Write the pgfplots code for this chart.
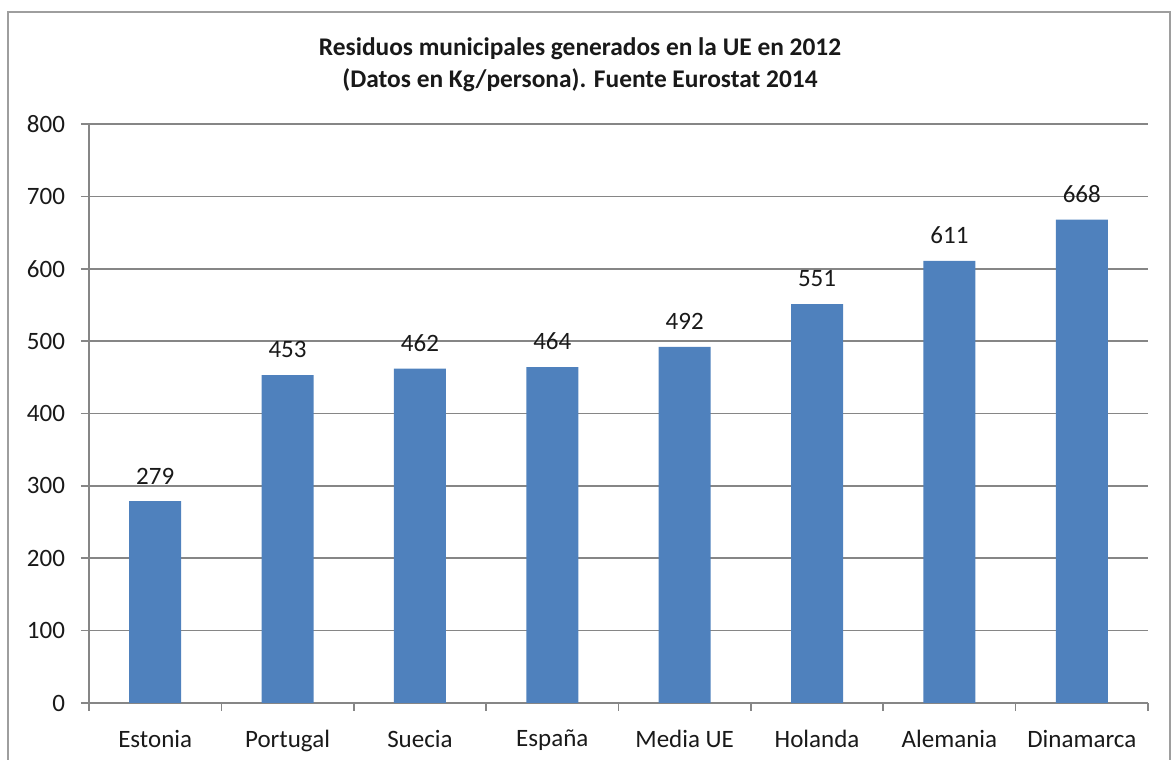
\documentclass[border=0pt]{standalone}
\usepackage{pgfplots}
\pgfplotsset{compat=1.18}
\usepackage{fontspec}
\setmainfont{Carlito}
\definecolor{barblue}{HTML}{4F81BD}
\definecolor{gridgray}{HTML}{868686}
\begin{document}
\begin{tikzpicture}[x=0.5pt,y=0.5pt]
\useasboundingbox (0,0) rectangle (1175,760);
\begin{scope}
\clip (0,0) rectangle (1175,760);
\draw[gridgray!80, line width=0.9pt] (8,-20) rectangle (1170,748);
\end{scope}
\node[font=\bfseries\fontsize{12.7pt}{16pt}\selectfont, align=center, text=black!90] at (580,695)
  {Residuos municipales generados en la UE en 2012\\(Datos en Kg/persona). Fuente Eurostat 2014};
\begin{axis}[
  at={(44.5pt,28.5pt)}, anchor=south west,
  scale only axis, width=529.5pt, height=289.5pt,
  xmin=-0.5, xmax=7.5, ymin=0, ymax=800,
  ytick={0,100,...,800},
  xtick={-0.5,0.5,...,7.5},
  xticklabels={},
  extra x ticks={0,...,7},
  extra x tick labels={Estonia,Portugal,Suecia,España,Media UE,Holanda,Alemania,Dinamarca},
  extra x tick style={major tick length=0pt, grid=none},
  axis x line*=bottom, axis y line*=left,
  x axis line style={gridgray, line width=0.8pt},
  y axis line style={gridgray, line width=0.8pt},
  ymajorgrids, xmajorgrids=false, grid style={gridgray, line width=0.8pt},
  tick style={gridgray, line width=0.8pt},
  tick align=outside, major tick length=4pt,
  tick label style={font=\fontsize{12.5pt}{14pt}\selectfont, text=black!90},
  yticklabel style={xshift=-4.5pt},
  xticklabel style={yshift=-10pt},
  /pgf/number format/assume math mode=true,
  nodes near coords,
  nodes near coords style={font=\fontsize{12.5pt}{14pt}\selectfont, text=black!90, yshift=5pt},
]
\addplot[ybar, bar width=26pt, fill=barblue, draw=none] coordinates {
(0,279) (1,453) (2,462) (3,464) (4,492) (5,551) (6,611) (7,668)};
\end{axis}
\end{tikzpicture}
\end{document}
